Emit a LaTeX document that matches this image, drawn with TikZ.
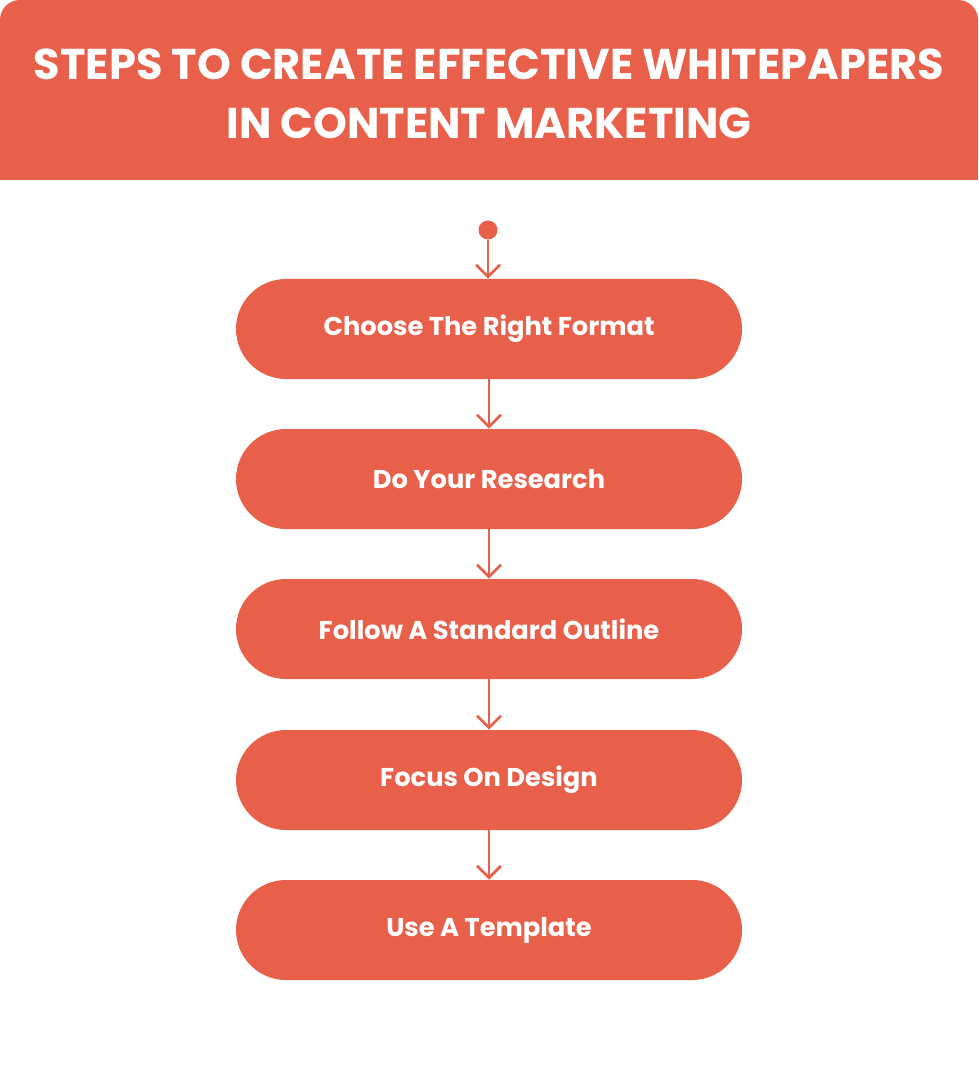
\documentclass[tikz,border=0pt]{standalone}
\usepackage{fontspec}
\setmainfont{Poppins}
\usetikzlibrary{arrows.meta}
\definecolor{brand}{HTML}{E8604A}
\begin{document}
\begin{tikzpicture}[x=0.75pt,y=-0.75pt,
  stepbox/.style={fill=brand,rounded corners=37.5pt,minimum width=506*0.75pt,minimum height=100*0.75pt,text=white,font=\fontsize{19.3}{22}\selectfont\bfseries},
  conn/.style={draw=brand,line width=2.1pt,-{Straight Barb[length=9pt,width=18pt,line width=2.1pt]}}]
\useasboundingbox (0,0) rectangle (978,1080);
\fill[brand,rounded corners=15pt] (0,180) -- (0,0) -- (978,0) -- (978,180) -- cycle;
\fill[brand] (0,150) rectangle (978,180);
\node[text=white,font=\fontsize{32.3}{44}\selectfont\bfseries,align=center] (title) at (489,94) {STEPS TO CREATE EFFECTIVE WHITEPAPERS\\IN CONTENT MARKETING};
\node[circle,fill=brand,inner sep=0pt,minimum size=19*0.75pt] (dot) at (488,230) {};
\node[stepbox] (s1) at (489,329) {Choose The Right Format};
\node[stepbox] (s2) at (489,479) {Do Your Research};
\node[stepbox] (s3) at (489,629) {Follow A Standard Outline};
\node[stepbox] (s4) at (489,780) {Focus On Design};
\node[stepbox] (s5) at (489,930) {Use A Template};
\draw[conn] (dot) -- (dot|-s1.north);
\draw[conn] (s1) -- (s2);
\draw[conn] (s2) -- (s3);
\draw[conn] (s3) -- (s4);
\draw[conn] (s4) -- (s5);
\end{tikzpicture}
\end{document}
